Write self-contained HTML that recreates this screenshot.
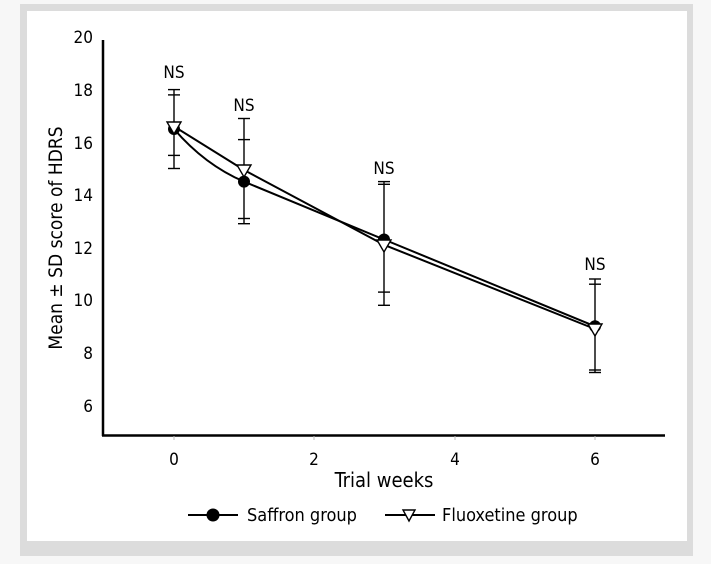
<!DOCTYPE html>
<html><head><meta charset="utf-8"><style>
html,body{margin:0;padding:0;background:#f4f4f4;}
svg{display:block;font-family:"DejaVu Sans Condensed","Liberation Sans Narrow","Liberation Sans",sans-serif;}
</style></head><body>
<svg width="711" height="564" viewBox="0 0 711 564" xmlns="http://www.w3.org/2000/svg">
<rect x="0" y="0" width="711" height="564" fill="#f7f7f7"/>
<rect x="20" y="4" width="673" height="552" fill="#dcdcdc"/>
<rect x="27" y="11" width="660" height="530" fill="#fff"/>
<g stroke="#000" fill="none">
<line x1="103" y1="40" x2="103" y2="436" stroke-width="2.5"/>
<line x1="102" y1="435.5" x2="665" y2="435.5" stroke-width="2.5"/>
<line x1="174" y1="436" x2="174" y2="440" stroke="#bbb"/>
<line x1="314" y1="436" x2="314" y2="440" stroke="#bbb"/>
<line x1="455" y1="436" x2="455" y2="440" stroke="#bbb"/>
<line x1="595" y1="436" x2="595" y2="440" stroke="#bbb"/>
<g stroke-width="1.4">
<line x1="174" y1="89.6" x2="174" y2="168.5"/>
<line x1="168" y1="89.6" x2="180" y2="89.6"/><line x1="168" y1="94.9" x2="180" y2="94.9"/>
<line x1="168" y1="155.4" x2="180" y2="155.4"/><line x1="168" y1="168.5" x2="180" y2="168.5"/>
<line x1="244" y1="118.5" x2="244" y2="223.7"/>
<line x1="238" y1="118.5" x2="250" y2="118.5"/><line x1="238" y1="139.6" x2="250" y2="139.6"/>
<line x1="238" y1="218.5" x2="250" y2="218.5"/><line x1="238" y1="223.7" x2="250" y2="223.7"/>
<line x1="384" y1="181.6" x2="384" y2="305.3"/>
<line x1="378" y1="181.6" x2="390" y2="181.6"/><line x1="378" y1="184.3" x2="390" y2="184.3"/>
<line x1="378" y1="292.1" x2="390" y2="292.1"/><line x1="378" y1="305.3" x2="390" y2="305.3"/>
<line x1="595" y1="279" x2="595" y2="372"/>
<line x1="589" y1="279" x2="601" y2="279"/><line x1="589" y1="284.2" x2="601" y2="284.2"/>
<line x1="589" y1="370" x2="601" y2="370"/><line x1="589" y1="372.5" x2="601" y2="372.5"/>
</g>
<path d="M174 129 Q205 165 244 181.6 L384 239.5 L595 326.3" stroke-width="2"/>
<path d="M174 126.4 L244 170 L384 244.8 L595 329" stroke-width="2"/>
</g>
<g fill="#000">
<circle cx="174" cy="129" r="6"/><circle cx="244" cy="181.6" r="6"/><circle cx="384" cy="239.5" r="6"/><circle cx="595" cy="326.3" r="6"/>
</g>
<g fill="#fff" stroke="#000" stroke-width="1.4">
<path d="M167 122 L181 122 L174 134 Z"/><path d="M237 165 L251 165 L244 177 Z"/><path d="M377 240 L391 240 L384 252 Z"/><path d="M588 324 L602 324 L595 336 Z"/>
</g>
<g font-size="17" text-anchor="end" fill="#000">
<text x="93" y="43">20</text><text x="93" y="96">18</text><text x="93" y="149">16</text><text x="93" y="201">14</text><text x="93" y="254">12</text><text x="93" y="306">10</text><text x="93" y="359">8</text><text x="93" y="412">6</text>
</g>
<g font-size="17" text-anchor="middle" fill="#000">
<text x="174" y="465">0</text><text x="314" y="465">2</text><text x="455" y="465">4</text><text x="595" y="465">6</text>
<text x="174" y="78">NS</text><text x="244" y="111">NS</text><text x="384" y="174">NS</text><text x="595" y="270">NS</text>
<text x="384" y="487" font-size="20">Trial weeks</text>
<text transform="translate(62 238) rotate(-90)" font-size="19">Mean ± SD score of HDRS</text>
</g>
<g stroke="#000" stroke-width="2"><line x1="188" y1="515" x2="238" y2="515"/><line x1="385" y1="515" x2="435" y2="515"/></g>
<circle cx="213" cy="515" r="6.5" fill="#000"/>
<path d="M403 510 L415 510 L409 521 Z" fill="#fff" stroke="#000" stroke-width="1.4"/>
<g font-size="18" fill="#000"><text x="247" y="521">Saffron group</text><text x="442" y="521">Fluoxetine group</text></g>
</svg>
</body></html>
